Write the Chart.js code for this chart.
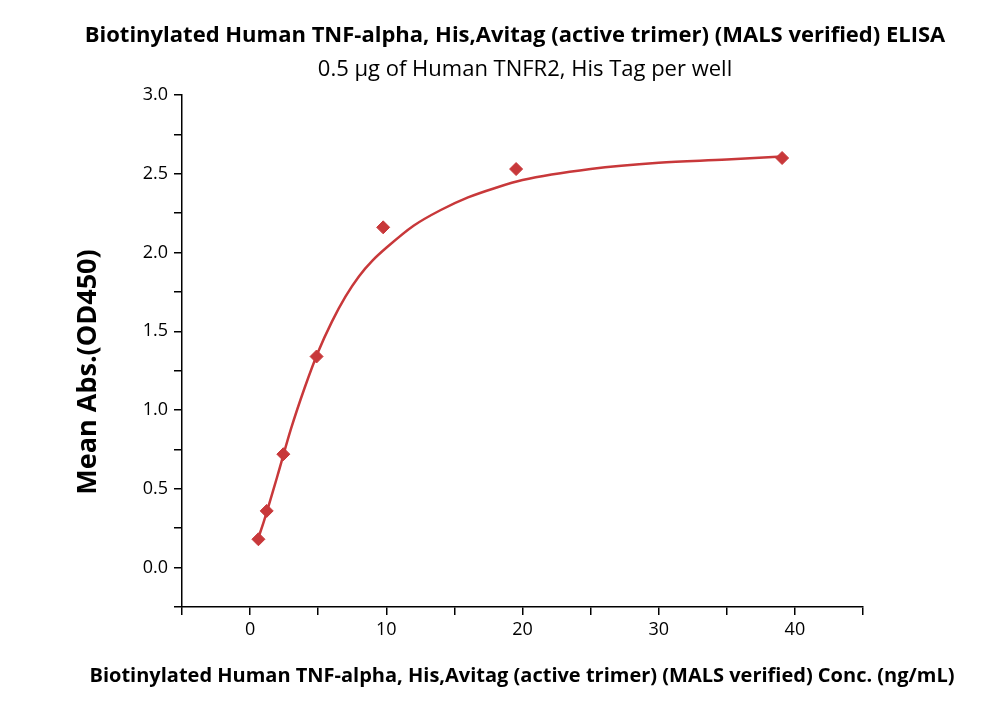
<!DOCTYPE html>
<html><head><meta charset="utf-8">
<script src="https://cdn.jsdelivr.net/npm/chart.js@4"></script>
<style>html,body{margin:0;padding:0;background:#fff}#w{width:1000px;height:714px;position:relative}</style>
</head><body><div id="w"><canvas id="c"></canvas></div>
<script>
const concentrations=[0.61,1.22,2.44,4.88,9.77,19.53,39.06];
const meanAbs=[0.18,0.36,0.72,1.34,2.16,2.53,2.60];
const curveX=[0.61,1,2,3,4,5,6,7,8,9,10,12,14,16,18,20,25,30,35,39.06];
const curveY=[0.19,0.29,0.58,0.88,1.14,1.37,1.56,1.72,1.85,1.95,2.03,2.17,2.27,2.35,2.41,2.46,2.53,2.57,2.59,2.61];
const title="Biotinylated Human TNF-alpha, His,Avitag (active trimer) (MALS verified) ELISA";
const subtitle="0.5 μg of Human TNFR2, His Tag per well";
const xTitle="Biotinylated Human TNF-alpha, His,Avitag (active trimer) (MALS verified) Conc. (ng/mL)";
const yTitle="Mean Abs.(OD450)";
const red="#c8383a";
const textPlugin={id:'txt',afterDraw(ch){const c=ch.ctx;c.save();c.fillStyle="#000";c.textAlign="center";c.textBaseline="middle";
c.font="bold 22px 'Open Sans'";fit(c,title,515,36,895);
c.font="22px 'Open Sans'";fit(c,subtitle,525,70,453);
c.font="bold 20px 'Open Sans'";fit(c,xTitle,522,676,895);
c.translate(88,372);c.rotate(-Math.PI/2);c.font="bold 27px 'Open Sans'";fit(c,yTitle,0,0,256);c.restore();}};
function fit(c,t,x,y,w){c.fillText(t,x,y,w);}
new Chart(document.getElementById('c'),{
type:'scatter',
data:{datasets:[
{data:concentrations.map((x,i)=>({x,y:meanAbs[i]})),pointStyle:'rectRot',pointRadius:6.5,backgroundColor:red,borderColor:red,showLine:false},
{data:curveX.map((x,i)=>({x,y:curveY[i]})),showLine:true,pointRadius:0,borderColor:red,borderWidth:2.5,cubicInterpolationMode:'monotone'}
]},
options:{responsive:true,maintainAspectRatio:false,animation:false,
layout:{padding:{top:95,right:137,left:0,bottom:0}},
plugins:{legend:{display:false},tooltip:{enabled:false}},
scales:{
x:{type:'linear',min:-5,max:45,afterFit:s=>{s.height=107},
grid:{display:true,drawOnChartArea:false,drawTicks:true,tickLength:8,color:'#000',lineWidth:1.5},
border:{color:'#000',width:1.5},
ticks:{stepSize:5,color:'#000',font:{size:18,family:"'Open Sans'"},padding:4,maxRotation:0,autoSkip:false,
callback:v=>(v%10===0&&v>=0&&v<=40)?String(v):''}},
y:{min:-0.25,max:3.0,afterFit:s=>{s.width=182},
grid:{display:true,drawOnChartArea:false,drawTicks:true,tickLength:8,color:'#000',lineWidth:1.5},
border:{color:'#000',width:1.5},
ticks:{stepSize:0.25,color:'#000',font:{size:18,family:"'Open Sans'"},padding:6,autoSkip:false,
callback:v=>(Math.abs(v*2-Math.round(v*2))<1e-6&&v>=0)?v.toFixed(1):''}}
}},
plugins:[textPlugin]});
</script></body></html>
